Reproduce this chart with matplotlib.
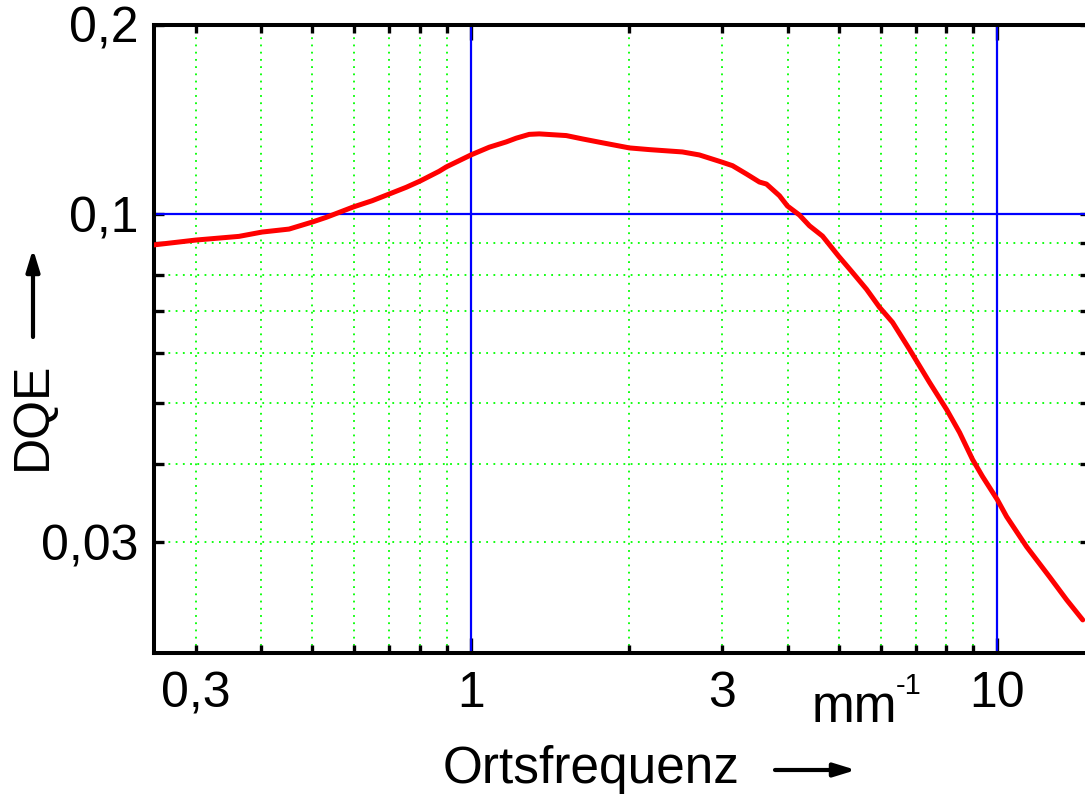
import matplotlib
matplotlib.use("Agg")
import matplotlib.pyplot as plt
from matplotlib.ticker import FixedLocator, FixedFormatter, NullFormatter

plt.rcParams["font.family"] = ["Liberation Sans", "DejaVu Sans"]

# DQE curve (Ortsfrequenz in mm^-1)
freq = [0.2478, 0.300, 0.3626, 0.401, 0.4514, 0.4993, 0.5309, 0.5974,
        0.6493, 0.6995, 0.7534, 0.8008, 0.8703, 0.8976, 0.9501, 1.0,
        1.0834, 1.1671, 1.219, 1.2905, 1.3483, 1.5177, 1.6277, 1.7538,
        2.0, 2.1827, 2.5219, 2.7164, 2.9919, 3.1397, 3.3375, 3.5326,
        3.6427, 3.856, 3.9934, 4.2086, 4.397, 4.6547, 4.9932, 5.3082,
        5.6429, 5.9732, 6.3229, 6.812, 7.4341, 8.0093, 8.4782, 8.9751,
        9.3756, 10.0, 10.416, 11.367, 12.572, 13.546, 14.531]
dqe = [0.08923, 0.0909, 0.09214, 0.09361, 0.09464, 0.0971, 0.09879,
       0.10261, 0.10501, 0.10762, 0.1103, 0.11288, 0.11697, 0.11885,
       0.12163, 0.1242, 0.12777, 0.13028, 0.13207, 0.13393, 0.13417,
       0.13334, 0.13173, 0.13014, 0.12744, 0.12665, 0.12557, 0.1242,
       0.12104, 0.11941, 0.11583, 0.11246, 0.11163, 0.10695, 0.10298,
       0.09963, 0.09579, 0.09224, 0.08571, 0.08071, 0.07591, 0.07105,
       0.06724, 0.06087, 0.05394, 0.04885, 0.04489, 0.04065, 0.03819,
       0.03509, 0.03297, 0.02953, 0.02643, 0.0243, 0.02258]

x_major = [1, 10]
x_major_labels = ["1", "10"]
x_minor = [0.3, 0.4, 0.5, 0.6, 0.7, 0.8, 0.9, 2, 3, 4, 5, 6, 7, 8, 9]
x_minor_labels = ["0,3", "", "", "", "", "", "", "", "3", "", "", "", "", "", ""]
y_major = [0.03, 0.1, 0.2]
y_major_labels = ["0,03", "0,1", "0,2"]
y_minor = [0.04, 0.05, 0.06, 0.07, 0.08, 0.09]

W, H = 1085, 796
fig = plt.figure(figsize=(W / 100, H / 100), dpi=100)
ax = fig.add_axes([154 / W, (H - 653) / H, (1090 - 154) / W, (653 - 25) / H])
ax.set_xscale("log")
ax.set_yscale("log")
ax.set_xlim(0.25, 15)
ax.set_ylim(0.02, 0.2)

# grid: green dotted on minor positions, blue on decades
for xv in x_minor:
    ax.axvline(xv, color="#00ff00", ls=(0, (1, 3)), lw=1.3, zorder=1)
for yv in [0.03] + y_minor:
    ax.axhline(yv, color="#00ff00", ls=(0, (1, 3)), lw=1.3, zorder=1)
for xv in x_major:
    ax.axvline(xv, color="#0000ff", lw=1.6, zorder=2)
ax.axhline(0.1, color="#0000ff", lw=1.6, zorder=2)

ax.plot(freq, dqe, color="#ff0000", lw=3.6, solid_capstyle="round",
        solid_joinstyle="round", zorder=3)

ax.xaxis.set_major_locator(FixedLocator(x_major))
ax.xaxis.set_major_formatter(FixedFormatter(x_major_labels))
ax.xaxis.set_minor_locator(FixedLocator(x_minor))
ax.xaxis.set_minor_formatter(FixedFormatter(x_minor_labels))
ax.yaxis.set_major_locator(FixedLocator(y_major))
ax.yaxis.set_major_formatter(FixedFormatter(y_major_labels))
ax.yaxis.set_minor_locator(FixedLocator(y_minor))
ax.yaxis.set_minor_formatter(NullFormatter())

ax.tick_params(which="both", direction="in", top=True, right=True,
               width=2.4, labelsize=36)
ax.tick_params(axis="x", which="both", pad=13)
ax.tick_params(axis="y", which="both", pad=11)
ax.tick_params(axis="x", which="major", length=11)
ax.tick_params(axis="x", which="minor", length=6)
ax.tick_params(axis="y", which="both", length=7)
for sp in ax.spines.values():
    sp.set_linewidth(2.9)

# axis labels and arrows
arrow = dict(arrowstyle="-|>,head_length=1.3,head_width=0.4",
             lw=3, color="black", shrinkA=0, shrinkB=0)
fig.text(443 / W, (H - 783) / H, "Ortsfrequenz", fontsize=37,
         ha="left", va="baseline")
ax.annotate("", xy=(856, H - 770), xytext=(775, H - 770),
            xycoords="figure pixels", textcoords="figure pixels",
            arrowprops=arrow)
fig.text(33 / W, (H - 416) / H, "DQE", fontsize=36, rotation=90,
         ha="center", va="center")
ax.annotate("", xy=(33, H - 249), xytext=(33, H - 337),
            xycoords="figure pixels", textcoords="figure pixels",
            arrowprops=arrow)
fig.text(812 / W, (H - 722) / H, "mm", fontsize=37, ha="left", va="baseline")
fig.text(896 / W, (H - 694) / H, "-1", fontsize=21, ha="left", va="baseline")

fig.savefig("out.png", dpi=100)
